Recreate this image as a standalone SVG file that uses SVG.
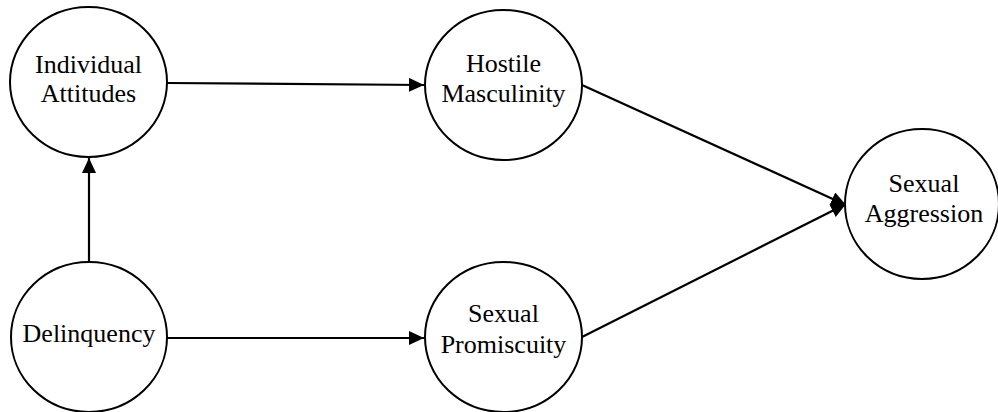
<svg xmlns="http://www.w3.org/2000/svg" width="998" height="412" viewBox="0 0 998 412">
<style>
.node ellipse{fill:#fff;stroke:#000;stroke-width:2}
.node text{font-family:"Liberation Serif","Times New Roman",serif;font-size:26px;fill:#000;text-anchor:middle}
.edge{stroke:#000;stroke-width:2.2;fill:none;marker-end:url(#arr)}
</style>
<defs>
<marker id="arr" markerUnits="userSpaceOnUse" markerWidth="16" markerHeight="14" refX="15" refY="7" orient="auto">
<path d="M0,0 L15,7 L0,14 Z" fill="#000"/>
</marker>
</defs>
<rect width="998" height="412" fill="#fff"/>
<g id="connectors">
<path class="edge" d="M167,83 L424,85"/>
<path class="edge" d="M89,262 L89,158"/>
<path class="edge" d="M167,338 L424,338"/>
<path class="edge" d="M582,85 L846,205"/>
<path class="edge" d="M582,337 L846,204"/>
</g>
<g id="individual-attitudes" class="node">
<ellipse cx="88.5" cy="82" rx="78.5" ry="75"/>
<text x="88.5" y="72.7">Individual</text>
<text x="88.5" y="101.7">Attitudes</text>
</g>
<g id="hostile-masculinity" class="node">
<ellipse cx="503.5" cy="85" rx="78.5" ry="75"/>
<text x="503.5" y="71.7">Hostile</text>
<text x="503.5" y="101.7">Masculinity</text>
</g>
<g id="delinquency" class="node">
<ellipse cx="89" cy="337" rx="78" ry="75"/>
<text x="89" y="341.7">Delinquency</text>
</g>
<g id="sexual-promiscuity" class="node">
<ellipse cx="503.5" cy="337" rx="78.5" ry="75"/>
<text x="503.5" y="321.7">Sexual</text>
<text x="503.5" y="353">Promiscuity</text>
</g>
<g id="sexual-aggression" class="node">
<ellipse cx="922" cy="204" rx="77" ry="75"/>
<text x="924" y="191.7">Sexual</text>
<text x="924" y="221.7">Aggression</text>
</g>
</svg>
